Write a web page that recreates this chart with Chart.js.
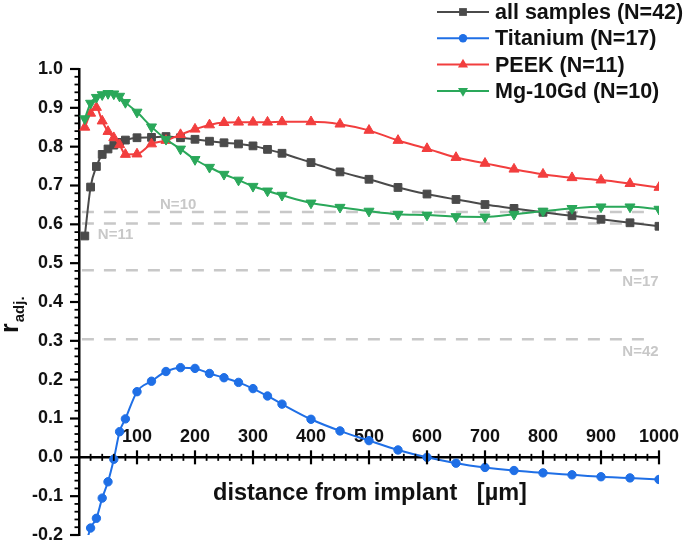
<!DOCTYPE html>
<html>
<head>
<meta charset="utf-8">
<script src="https://cdn.jsdelivr.net/npm/chart.js"></script>
<style>
    body { margin: 0; background: #fff; }
    #wrap { width: 688px; height: 544px; }
</style>
</head>
<body>
<div id="wrap"><canvas id="chart" width="688" height="544"></canvas></div>
<script>
// distance from implant [µm]
const distance = [10, 20, 30, 40, 50, 60, 70, 80, 100, 125, 150, 175, 200, 225, 250, 275, 300, 325, 350,
    400, 450, 500, 550, 600, 650, 700, 750, 800, 850, 900, 950, 1000]

const allSamples = [0.570, 0.696, 0.749, 0.780, 0.794, 0.804, 0.811, 0.817, 0.823, 0.824, 0.826, 0.823, 0.819,
    0.814, 0.810, 0.807, 0.802, 0.793, 0.783, 0.759, 0.735, 0.716, 0.695, 0.678, 0.664, 0.651, 0.641, 0.631,
    0.622, 0.613, 0.604, 0.595]
const titanium = [-0.235, -0.182, -0.157, -0.105, -0.063, -0.005, 0.066, 0.099, 0.169, 0.196, 0.221, 0.231,
    0.229, 0.216, 0.205, 0.193, 0.177, 0.158, 0.137, 0.098, 0.068, 0.043, 0.019, 0.000, -0.015, -0.026,
    -0.034, -0.040, -0.045, -0.050, -0.053, -0.057]
const peek = [0.850, 0.886, 0.901, 0.866, 0.839, 0.823, 0.805, 0.780, 0.781, 0.807, 0.816, 0.831, 0.845,
    0.856, 0.862, 0.863, 0.863, 0.863, 0.864, 0.864, 0.858, 0.842, 0.816, 0.795, 0.772, 0.757, 0.742, 0.729,
    0.720, 0.714, 0.705, 0.695]
const mg10gd = [0.872, 0.912, 0.927, 0.934, 0.937, 0.936, 0.930, 0.914, 0.889, 0.851, 0.819, 0.794, 0.767,
    0.747, 0.729, 0.714, 0.698, 0.686, 0.675, 0.655, 0.644, 0.634, 0.626, 0.624, 0.620, 0.619, 0.626, 0.634,
    0.641, 0.645, 0.645, 0.639]

const seriesLabels = ['all samples (N=42)', 'Titanium (N=17)', 'PEEK (N=11)', 'Mg-10Gd (N=10)']

// significance thresholds per group size
const refLevels = [0.632, 0.602, 0.482, 0.304]
const refLabels = ['N=10', 'N=11', 'N=17', 'N=42']

const FONT = '"Liberation Sans", Arial, sans-serif'
const colors = ['#4a4a4a', '#1f6fe6', '#f23e3e', '#2aa85a']
const styles = ['rect', 'circle', 'triangle', 'triangle']
const rotations = [0, 0, 0, 180]
const radii = [5.5, 4.2, 5.8, 5.8]

const toPoints = values => distance.map((d, i) => ({ x: d, y: values[i] }))

const seriesSets = [allSamples, titanium, peek, mg10gd].map((values, i) => ({
    label: seriesLabels[i],
    data: toPoints(values),
    borderColor: colors[i],
    backgroundColor: colors[i],
    borderWidth: 2,
    pointStyle: styles[i],
    pointRotation: rotations[i],
    pointRadius: radii[i],
    pointBorderWidth: 1,
    cubicInterpolationMode: 'monotone',
    order: 4 - i
}))

const refSets = refLevels.map((level, i) => ({
    label: refLabels[i],
    data: [{ x: 5, y: level }, { x: 982, y: level }],
    borderColor: '#c8c8c8',
    borderWidth: 2.5,
    borderDash: [12, 10],
    pointRadius: 0,
    order: 10
}))

// label anchors for the threshold lines (data units)
const refLabelPos = [
    { x: 171, y: 0.650 },
    { x: 63, y: 0.572 },
    { x: 968, y: 0.451 },
    { x: 968, y: 0.272 }
]

function drawMarker(ctx, style, rotation, x, y, r) {
    ctx.beginPath()
    if (style === 'rect') {
        const s = r * Math.SQRT1_2
        ctx.rect(x - s, y - s, 2 * s, 2 * s)
    } else if (style === 'circle') {
        ctx.arc(x, y, r, 0, Math.PI * 2)
    } else {
        const dir = rotation === 180 ? -1 : 1
        ctx.moveTo(x, y - dir * r)
        ctx.lineTo(x - r * 0.866, y + dir * r * 0.5)
        ctx.lineTo(x + r * 0.866, y + dir * r * 0.5)
        ctx.closePath()
    }
    ctx.fill()
}

const decorations = {
    id: 'decorations',
    afterDraw(chart) {
        const { ctx, chartArea } = chart
        const xScale = chart.scales.x
        const yScale = chart.scales.y
        const y0 = yScale.getPixelForValue(0)

        ctx.save()
        ctx.strokeStyle = '#000'

        // x ticks crossing the zero line
        for (let v = 20; v <= 1000; v += 20) {
            const px = xScale.getPixelForValue(v)
            const major = v % 100 === 0
            const half = major ? 7 : 3.5
            ctx.lineWidth = major ? 2.2 : 1.8
            ctx.beginPath()
            ctx.moveTo(px, y0 - half)
            ctx.lineTo(px, y0 + half)
            ctx.stroke()
        }

        // y ticks, outward
        for (let i = -10; i <= 50; i++) {
            const py = yScale.getPixelForValue(i * 0.02)
            const major = i % 5 === 0
            const len = major ? 9 : 4.5
            ctx.lineWidth = major ? 2.2 : 1.8
            ctx.beginPath()
            ctx.moveTo(chartArea.left - len, py)
            ctx.lineTo(chartArea.left, py)
            ctx.stroke()
        }

        // threshold labels
        ctx.fillStyle = '#c8c8c8'
        ctx.font = 'bold 15px ' + FONT
        ctx.textAlign = 'center'
        ctx.textBaseline = 'middle'
        refLabels.forEach((text, i) => {
            const p = refLabelPos[i]
            ctx.fillText(text, xScale.getPixelForValue(p.x), yScale.getPixelForValue(p.y))
        })

        // legend
        ctx.font = 'bold 21.5px ' + FONT
        ctx.textAlign = 'left'
        ctx.fillStyle = '#111'
        seriesLabels.forEach((text, i) => {
            const rowY = 12 + i * 26.3
            ctx.strokeStyle = colors[i]
            ctx.lineWidth = 2
            ctx.beginPath()
            ctx.moveTo(437, rowY)
            ctx.lineTo(489, rowY)
            ctx.stroke()
            ctx.fillStyle = colors[i]
            drawMarker(ctx, styles[i], rotations[i], 463, rowY, radii[i])
            ctx.fillStyle = '#111'
            ctx.fillText(text, 495, rowY + 1)
        })

        // x axis title
        ctx.font = 'bold 23.5px ' + FONT
        ctx.textAlign = 'center'
        ctx.fillText('distance from implant   [µm]', 370, 494)

        // y axis title r_adj.
        ctx.translate(18, 333)
        ctx.rotate(-Math.PI / 2)
        ctx.textAlign = 'left'
        ctx.textBaseline = 'alphabetic'
        ctx.font = 'bold 25px ' + FONT
        ctx.fillText('r', 0, 0)
        const rw = ctx.measureText('r').width
        ctx.font = 'bold 15px ' + FONT
        ctx.fillText('adj.', rw + 1, 6)

        ctx.restore()
    }
}

const chartConfig = {
    type: 'line',
    data: {
        datasets: [...seriesSets, ...refSets]
    },
    options: {
        responsive: false,
        animation: false,
        layout: {
            padding: { left: 0, top: 69, right: 29, bottom: 9 }
        },
        plugins: {
            legend: { display: false },
            tooltip: { enabled: false }
        },
        scales: {
            x: {
                type: 'linear',
                min: 0,
                max: 1000,
                position: { y: 0 },
                afterFit: scale => { scale.height = 0 },
                grid: { display: false, drawTicks: false, tickLength: 0 },
                border: { display: true, color: '#000', width: 2.5 },
                ticks: {
                    stepSize: 100,
                    padding: -31,
                    maxRotation: 0,
                    autoSkip: false,
                    color: '#111',
                    font: { family: FONT, size: 18, weight: 'bold', lineHeight: 1.2 },
                    callback: value => value === 0 ? '' : value
                }
            },
            y: {
                type: 'linear',
                min: -0.2,
                max: 1.0,
                position: 'left',
                afterFit: scale => {
                    scale.width = 79
                    scale.paddingTop = 0
                    scale.paddingBottom = 0
                },
                grid: { display: false, drawTicks: false, tickLength: 0 },
                border: { display: true, color: '#000', width: 2.5 },
                ticks: {
                    stepSize: 0.1,
                    padding: 16,
                    color: '#111',
                    font: { family: FONT, size: 18, weight: 'bold', lineHeight: 1 },
                    callback: value => Math.abs(value) < 1e-9 ? '0.0' : value.toFixed(1)
                }
            }
        }
    },
    plugins: [decorations]
}

new Chart(document.getElementById('chart'), chartConfig)
</script>
</body>
</html>
